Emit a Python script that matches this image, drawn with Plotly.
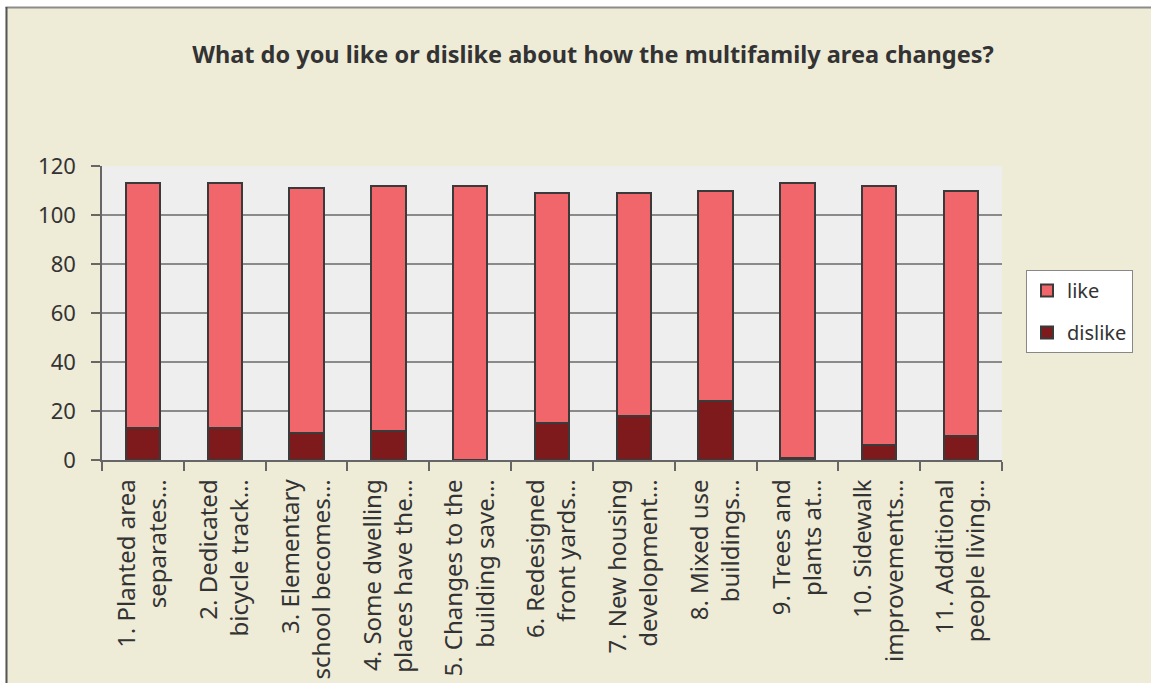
import plotly.graph_objects as go

categories = [
    "1. Planted area<br>separates…",
    "2. Dedicated<br>bicycle track…",
    "3. Elementary<br>school becomes…",
    "4. Some dwelling<br>places have the…",
    "5. Changes to the<br>building save…",
    "6. Redesigned<br>front yards…",
    "7. New housing<br>development…",
    "8. Mixed use<br>buildings…",
    "9. Trees and<br>plants at…",
    "10. Sidewalk<br>improvements…",
    "11. Additional<br>people living…",
]
dislike = [13, 13, 11, 12, 0, 15, 18, 24, 1, 6, 10]
like = [100, 100, 100, 100, 112, 94, 91, 86, 112, 106, 100]
y_ticks = [0, 20, 40, 60, 80, 100, 120]

FONT = "Noto Sans"
TXT = "#333333"

fig = go.Figure()
fig.add_trace(go.Bar(
    x=categories, y=dislike, name="dislike",
    marker=dict(color="#7F1A1C", line=dict(color="#3A3A3A", width=2)),
    legendgroup="b", legendrank=2,
))
fig.add_trace(go.Bar(
    x=categories, y=like, name="like",
    marker=dict(color="#F0666A", line=dict(color="#3A3A3A", width=2)),
    legendgroup="a", legendrank=1,
))

W, H = 1151, 683
L, R, T, B = 102, 1002, 166, 460
def px(xp):
    return (xp - L) / (R - L)
def py(yp):
    return (B - yp) / (B - T)

shapes = [
    dict(type="rect", xref="paper", yref="paper", x0=px(-5), x1=px(W + 5), y0=py(7), y1=py(-5),
         fillcolor="white", line=dict(width=0), layer="below"),
    dict(type="rect", xref="paper", yref="paper", x0=px(-5), x1=px(5.5), y0=py(H + 5), y1=py(-5),
         fillcolor="white", line=dict(width=0), layer="below"),
    dict(type="line", xref="paper", yref="paper", x0=px(5.5), x1=px(W + 5), y0=py(7.5), y1=py(7.5),
         line=dict(color="#8C8C8C", width=2)),
    dict(type="line", xref="paper", yref="paper", x0=px(6.5), x1=px(6.5), y0=py(7), y1=py(H + 5),
         line=dict(color="#555555", width=2)),
]

fig.update_layout(
    width=W, height=H,
    barmode="stack",
    bargap=0.58,
    paper_bgcolor="#EEEBD7",
    plot_bgcolor="#EEEEEE",
    margin=dict(l=L, r=W - R, t=T, b=H - B, pad=0, autoexpand=False),
    font=dict(family=FONT, color=TXT, size=22),
    title=dict(
        text="<b>What do you like or dislike about how the multifamily area changes?</b>",
        x=593 / W, xanchor="center", y=1 - 55 / H, yanchor="middle",
        font=dict(family=FONT, size=23.5, color=TXT),
    ),
    legend=dict(
        x=px(1026), y=py(270), xanchor="left", yanchor="top",
        bgcolor="white", bordercolor="#888888", borderwidth=1,
        traceorder="grouped", tracegroupgap=13,
        font=dict(family=FONT, size=20, color=TXT),
        itemwidth=30,
    ),
    shapes=shapes,
    xaxis=dict(
        showline=True, linecolor="#666666", linewidth=1.5,
        ticks="outside", ticklen=9, tickcolor="#666666", tickwidth=1.5,
        tickson="boundaries", tickangle=-90,
        tickfont=dict(family=FONT, size=24, color=TXT),
        ticklabelstandoff=8,
        automargin=False,
        showgrid=False,
    ),
    yaxis=dict(
        range=[0, 120], tickvals=y_ticks,
        showline=True, linecolor="#666666", linewidth=1.5,
        ticks="outside", ticklen=9, tickcolor="#666666", tickwidth=1.5,
        showgrid=True, gridcolor="#8A8A8A", gridwidth=1.5,
        zeroline=False,
        automargin=False,
        tickfont=dict(family=FONT, size=22, color=TXT),
        ticklabelstandoff=11,
    ),
)

fig.write_html(
    "out.html",
    config={"displayModeBar": False},
    post_script="document.body.style.margin='0';document.body.style.overflow='hidden';",
)
